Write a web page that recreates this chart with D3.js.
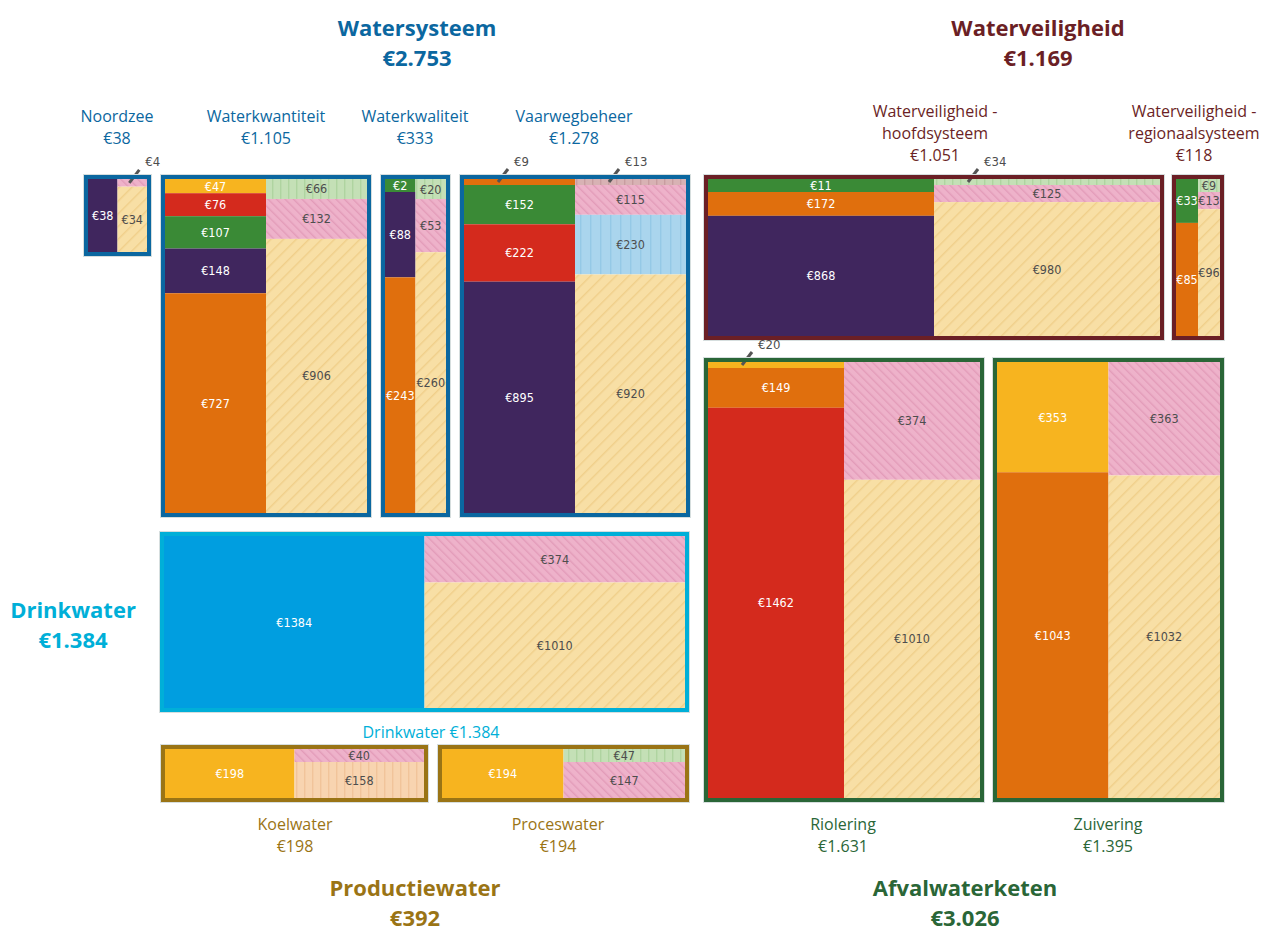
<!DOCTYPE html>
<html>
<head>
<meta charset="utf-8">
<script src="https://cdn.jsdelivr.net/npm/d3@7"></script>
<style>
body { margin: 0; background: #fff; }
svg { display: block; }
</style>
</head>
<body>
<div id="chart"></div>
<script>
// values per block, top to bottom. L = kosten (solid), R = hatched column
var noordzeeL = [38],                 noordzeeLc = ["paars"];
var noordzeeR = [4, 34],              noordzeeRc = ["roze", "zand"];
var kwantL = [47, 76, 107, 148, 727], kwantLc = ["goud", "rood", "groen", "paars", "oranje"];
var kwantR = [66, 132, 906],          kwantRc = ["lgroen", "roze", "zand"];
var kwalL = [2, 88, 243],             kwalLc = ["groen", "paars", "oranje"];
var kwalR = [20, 53, 260],            kwalRc = ["lgroen", "roze", "zand"];
var vaarL = [9, 152, 222, 895],       vaarLc = ["oranje", "groen", "rood", "paars"];
var vaarR = [13, 115, 230, 920],      vaarRc = ["mauve", "roze", "lblauw", "zand"];
var drinkL = [1384],                  drinkLc = ["blauw"];
var drinkR = [374, 1010],             drinkRc = ["roze", "zand"];
var koelL = [198],                    koelLc = ["goud"];
var koelR = [40, 158],                koelRc = ["roze", "perzik"];
var procesL = [194],                  procesLc = ["goud"];
var procesR = [47, 147],              procesRc = ["lgroen", "roze"];
var hoofdL = [11, 172, 868],          hoofdLc = ["groen", "oranje", "paars"];
var hoofdR = [34, 125, 980],          hoofdRc = ["lgroen", "roze", "zand"];
var regioL = [33, 85],                regioLc = ["groen", "oranje"];
var regioR = [9, 13, 96],             regioRc = ["lgroen", "roze", "zand"];
var rioolL = [20, 149, 1462],         rioolLc = ["goud", "oranje", "rood"];
var rioolR = [374, 1010],             rioolRc = ["roze", "zand"];
var zuivL = [353, 1043],              zuivLc = ["goud", "oranje"];
var zuivR = [363, 1032],              zuivRc = ["roze", "zand"];

// labels that sit outside their (thin) segment
var uitlijn = ["noordzee-R-0", "vaar-L-0", "vaar-R-0", "hoofd-R-0", "riool-L-0"];

// headings
var groepen = ["ws", "dw", "wv", "aw", "pw"];
var groepKleur = ["#0b67a0", "#00afd8", "#6b1f25", "#2a6637", "#9a7415"];

var blokken = [
  {id: "noordzee", g: "ws", L: noordzeeL, Lc: noordzeeLc, R: noordzeeR, Rc: noordzeeRc, f: [84, 175, 67, 81]},
  {id: "kwant", g: "ws", L: kwantL, Lc: kwantLc, R: kwantR, Rc: kwantRc, f: [161, 175, 210, 342]},
  {id: "kwal", g: "ws", L: kwalL, Lc: kwalLc, R: kwalR, Rc: kwalRc, f: [381, 175, 69, 342]},
  {id: "vaar", g: "ws", L: vaarL, Lc: vaarLc, R: vaarR, Rc: vaarRc, f: [460, 175, 230, 342]},
  {id: "drink", g: "dw", L: drinkL, Lc: drinkLc, R: drinkR, Rc: drinkRc, f: [160, 532, 529, 180]},
  {id: "koel", g: "pw", L: koelL, Lc: koelLc, R: koelR, Rc: koelRc, f: [161, 745, 267, 57]},
  {id: "proces", g: "pw", L: procesL, Lc: procesLc, R: procesR, Rc: procesRc, f: [438, 745, 251, 57]},
  {id: "hoofd", g: "wv", L: hoofdL, Lc: hoofdLc, R: hoofdR, Rc: hoofdRc, f: [704, 175, 460, 165]},
  {id: "regio", g: "wv", L: regioL, Lc: regioLc, R: regioR, Rc: regioRc, f: [1172, 175, 52, 165]},
  {id: "riool", g: "aw", L: rioolL, Lc: rioolLc, R: rioolR, Rc: rioolRc, f: [704, 358, 280, 444]},
  {id: "zuiv", g: "aw", L: zuivL, Lc: zuivLc, R: zuivR, Rc: zuivRc, f: [993, 358, 231, 444]}
];

var koppen = [
  {t: ["Watersysteem", "€2.753"], g: "ws", x: 417, y: 36, big: true},
  {t: ["Waterveiligheid", "€1.169"], g: "wv", x: 1038, y: 36, big: true},
  {t: ["Drinkwater", "€1.384"], g: "dw", x: 73, y: 618, big: true},
  {t: ["Productiewater", "€392"], g: "pw", x: 415, y: 896, big: true},
  {t: ["Afvalwaterketen", "€3.026"], g: "aw", x: 965, y: 896, big: true},
  {t: ["Noordzee", "€38"], g: "ws", x: 117, y: 122},
  {t: ["Waterkwantiteit", "€1.105"], g: "ws", x: 266, y: 122},
  {t: ["Waterkwaliteit", "€333"], g: "ws", x: 415, y: 122},
  {t: ["Vaarwegbeheer", "€1.278"], g: "ws", x: 574, y: 122},
  {t: ["Waterveiligheid -", "hoofdsysteem", "€1.051"], g: "wv", x: 935, y: 117},
  {t: ["Waterveiligheid -", "regionaalsysteem", "€118"], g: "wv", x: 1194, y: 117},
  {t: ["Drinkwater €1.384"], g: "dw", x: 431, y: 738},
  {t: ["Koelwater", "€198"], g: "pw", x: 295, y: 830},
  {t: ["Proceswater", "€194"], g: "pw", x: 558, y: 830},
  {t: ["Riolering", "€1.631"], g: "aw", x: 843, y: 830},
  {t: ["Zuivering", "€1.395"], g: "aw", x: 1108, y: 830}
];

var solid = {paars: "#40265e", oranje: "#e06f0d", rood: "#d42a1d", groen: "#3a8a36", goud: "#f7b41f", blauw: "#009ee0"};
var hatch = {
  zand:   {bg: "#f8dfa5", line: "#efcd85", angle: 45,  gap: 9},
  roze:   {bg: "#eeb2ca", line: "#e298b6", angle: -45, gap: 6},
  lgroen: {bg: "#c4e0b6", line: "#abd29c", angle: 0,   gap: 8},
  lblauw: {bg: "#aad5ed", line: "#92c7e5", angle: 0,   gap: 10},
  perzik: {bg: "#f8d4b0", line: "#f0c196", angle: 0,   gap: 8},
  mauve:  {bg: "#d8b2b4", line: "#c69a9d", angle: 0,   gap: 8}
};

var kleur = d3.scaleOrdinal().domain(groepen).range(groepKleur);
var fontTxt = "'Open Sans', 'Noto Sans', sans-serif";
var fontNr = "'Liberation Sans Narrow', 'DejaVu Sans Condensed', 'Roboto Condensed', sans-serif";

const width = 1263, height = 931;
var svg = d3.select("#chart").append("svg")
  .attr("width", width)
  .attr("height", height);
var defs = svg.append("defs");

Object.keys(hatch).forEach(function(k) {
  var h = hatch[k];
  var p = defs.append("pattern")
    .attr("id", "p-" + k)
    .attr("patternUnits", "userSpaceOnUse")
    .attr("width", h.gap).attr("height", h.gap)
    .attr("patternTransform", "rotate(" + h.angle + ")");
  p.append("rect").attr("width", h.gap).attr("height", h.gap).attr("fill", h.bg);
  p.append("line")
    .attr("x1", 0.75).attr("x2", 0.75).attr("y1", 0).attr("y2", h.gap)
    .attr("stroke", h.line).attr("stroke-width", 1.2);
});

// stacked heights with a minimum so labels keep room
function stapel(vals, minH, hgt) {
  var fixed = vals.map(function() { return false; });
  var y;
  for (var it = 0; it < 6; it++) {
    var vrij = d3.sum(vals, function(v, i) { return fixed[i] ? 0 : v; });
    var vast = d3.sum(minH, function(m, i) { return fixed[i] ? m : 0; });
    y = d3.scaleLinear().domain([0, vrij]).range([0, hgt - vast]);
    var changed = false;
    vals.forEach(function(v, i) {
      if (!fixed[i] && y(v) < minH[i]) { fixed[i] = true; changed = true; }
    });
    if (!changed) break;
  }
  var h = vals.map(function(v, i) { return fixed[i] ? minH[i] : y(v); });
  var tops = d3.cumsum([0].concat(h));
  return h.map(function(d, i) { return {y0: tops[i], h: d}; });
}

blokken.forEach(function(b) {
  var f = b.f, bw = 4;
  var g = svg.append("g").attr("class", "blok " + b.id);
  var ix = f[0] + bw, iy = f[1] + bw, iw = f[2] - 2 * bw, ih = f[3] - 2 * bw;
  var xs = d3.scaleLinear().domain([0, 2]).range([ix, ix + iw]);

  [["L", b.L, b.Lc], ["R", b.R, b.Rc]].forEach(function(col, ci) {
    var side = col[0], vals = col[1], cats = col[2];
    var isOut = function(i) { return uitlijn.indexOf(b.id + "-" + side + "-" + i) >= 0; };
    var minH = vals.map(function(v, i) { return isOut(i) ? 6 : 13; });
    var segs = stapel(vals, minH, ih);
    var x0 = xs(ci), w = xs(ci + 1) - xs(ci);

    segs.forEach(function(s, i) {
      var c = cats[i];
      g.append("rect")
        .attr("x", x0).attr("y", iy + s.y0)
        .attr("width", w).attr("height", s.h)
        .attr("fill", solid[c] ? solid[c] : "url(#p-" + c + ")");
      var cy = iy + s.y0 + s.h / 2;
      var tc = solid[c] ? "#fff" : "#4d4d4d";
      if (isOut(i)) {
        var sx = x0 + Math.min(w * 0.4, 34);
        g.append("line")
          .attr("x1", sx).attr("y1", cy)
          .attr("x2", sx + 10).attr("y2", cy - 13)
          .attr("stroke", "#555").attr("stroke-width", 3);
        g.append("text")
          .attr("x", sx + 16).attr("y", cy - 21)
          .attr("dominant-baseline", "central")
          .style("font-family", fontNr).style("font-size", "13px")
          .attr("fill", "#4d4d4d")
          .text("€" + vals[i]);
      } else {
        g.append("text")
          .attr("x", x0 + w / 2).attr("y", cy)
          .attr("text-anchor", "middle")
          .attr("dominant-baseline", "central")
          .style("font-family", fontNr).style("font-size", "12.5px")
          .attr("fill", tc)
          .text("€" + vals[i]);
      }
    });
  });

  // frame
  g.append("rect")
    .attr("x", f[0] - 0.5).attr("y", f[1] - 0.5)
    .attr("width", f[2] + 1).attr("height", f[3] + 1)
    .attr("fill", "none").attr("stroke", "#d6dede").attr("stroke-width", 1);
  g.append("rect")
    .attr("x", f[0] + bw / 2).attr("y", f[1] + bw / 2)
    .attr("width", f[2] - bw).attr("height", f[3] - bw)
    .attr("fill", "none").attr("stroke", kleur(b.g)).attr("stroke-width", bw);
});

koppen.forEach(function(k) {
  var t = svg.append("text")
    .attr("x", k.x).attr("y", k.y)
    .attr("text-anchor", "middle")
    .attr("fill", kleur(k.g))
    .style("font-family", fontTxt)
    .style("font-size", k.big ? "22px" : "16px")
    .style("font-weight", k.big ? 700 : 400);
  k.t.forEach(function(line, i) {
    t.append("tspan").attr("x", k.x).attr("dy", i === 0 ? 0 : (k.big ? 30 : 22)).text(line);
  });
});
</script>
</body>
</html>
